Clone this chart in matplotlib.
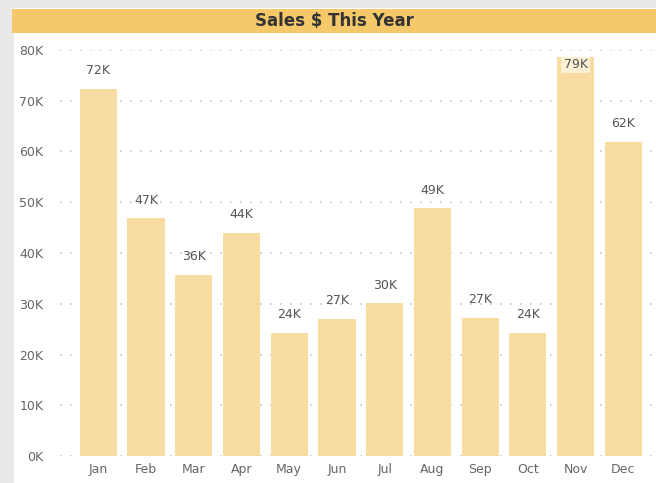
import matplotlib.pyplot as plt
from matplotlib.patches import Rectangle
from matplotlib.ticker import FuncFormatter

months = ["Jan", "Feb", "Mar", "Apr", "May", "Jun",
          "Jul", "Aug", "Sep", "Oct", "Nov", "Dec"]
sales = [72300, 46800, 35700, 44000, 24300, 27000,
         30100, 48800, 27200, 24300, 78600, 61900]
labels = ["72K", "47K", "36K", "44K", "24K", "27K",
          "30K", "49K", "27K", "24K", "79K", "62K"]
yticks = [0, 10000, 20000, 30000, 40000, 50000, 60000, 70000, 80000]

W, H = 656, 483
fig = plt.figure(figsize=(W / 100, H / 100), dpi=100)
fig.patch.set_facecolor("white")

# page background strips
fig.patches.append(Rectangle((0, 0), 14 / W, 1, transform=fig.transFigure,
                             facecolor="#e9e9e9", edgecolor="none", zorder=0))
fig.patches.append(Rectangle((0, 1 - 8 / H), 1, 8 / H, transform=fig.transFigure,
                             facecolor="#e9e9e9", edgecolor="none", zorder=0))
# title band
fig.patches.append(Rectangle((12 / W, 1 - 33 / H), 1 - 12 / W, 24 / H,
                             transform=fig.transFigure,
                             facecolor="#f5c86a", edgecolor="none", zorder=1))
fig.text((12 + W) / 2 / W, 1 - 21 / H, "Sales $ This Year",
         ha="center", va="center", fontsize=12, fontweight="bold",
         color="#333333", family=["Liberation Sans Narrow", "DejaVu Sans"])

ax = fig.add_axes([60 / W, (H - 456) / H, 592 / W, 406 / H])
x = range(len(months))
ax.bar(x, sales, width=0.78, color="#f8dca2", zorder=2)

for i, (v, lab) in enumerate(zip(sales, labels)):
    if i == 10:
        # label doesn't fit above, sits on the bar top
        ax.text(i, v - 1500, lab, ha="center", va="center", fontsize=9,
                color="#555555", zorder=3,
                bbox=dict(facecolor="white", alpha=0.55, edgecolor="none", pad=1.5))
    else:
        ax.text(i, v + 2300, lab, ha="center", va="bottom", fontsize=9,
                color="#555555", zorder=3)

ax.set_xlim(-0.8, 11.6)
ax.set_ylim(0, 80000)
ax.set_xticks(list(x))
ax.set_xticklabels(months)
ax.set_yticks(yticks)
ax.yaxis.set_major_formatter(FuncFormatter(lambda v, p: f"{int(v / 1000)}K"))
ax.yaxis.grid(True, linestyle=(0, (1, 5)), color="#c8c8c8", linewidth=1.2, zorder=0)
ax.set_axisbelow(True)
for s in ax.spines.values():
    s.set_visible(False)
ax.tick_params(length=0, labelsize=9, colors="#666666")
ax.tick_params(axis="y", pad=12)
ax.tick_params(axis="x", pad=5)

fig.savefig("out.png", dpi=100)
